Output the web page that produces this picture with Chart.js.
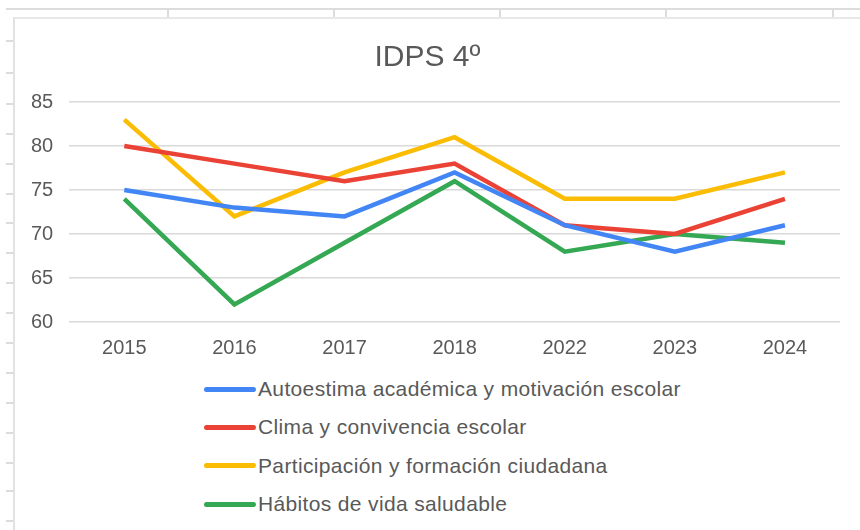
<!DOCTYPE html>
<html>
<head>
<meta charset="utf-8">
<script src="https://cdn.jsdelivr.net/npm/chart.js@4.4.0/dist/chart.umd.min.js"></script>
<style>
  body { margin: 0; background: #fff; font-family: "Liberation Sans", Arial, sans-serif; }
  #page { position: relative; width: 860px; height: 530px; overflow: hidden; }
  .sheet { position: absolute; background: #dcdcdc; }
  #box { position: absolute; left: 13px; top: 17px; width: 847px; height: 513px;
         border-left: 2px solid #e2e2e2; border-top: 2px solid #e8e8e8; background: #fff; }
  #wrap { position: relative; width: 845px; height: 351px; }
  #legend { margin: 0 0 0 189px; }
  .item { display: flex; align-items: center; height: 38.3px; color: #595959; font-size: 21px; letter-spacing: 0.35px; }
  .sw { width: 52px; height: 5px; border-radius: 3px; margin-right: 2px; }
</style>
</head>
<body>
<div id="page">
  <div id="bg"></div>
  <div id="box">
    <div id="wrap"><canvas id="c"></canvas></div>
    <div id="legend"></div>
  </div>
</div>
<script>
// datos IDPS 4º
const years = ['2015', '2016', '2017', '2018', '2022', '2023', '2024'];
const autoestima = [75, 73, 72, 77, 71, 68, 71];
const clima = [80, 78, 76, 78, 71, 70, 74];
const participacion = [83, 72, 77, 81, 74, 74, 77];
const habitos = [74, 62, 69, 76, 68, 70, 69];
const seriesNames = [
  'Autoestima académica y motivación escolar',
  'Clima y convivencia escolar',
  'Participación y formación ciudadana',
  'Hábitos de vida saludable'
];
const yTicks = [60, 65, 70, 75, 80, 85];

// fondo de planilla (lineas grises)
const bg = document.getElementById('bg');
function line(x, y, w, h) {
  const d = document.createElement('div');
  d.className = 'sheet';
  d.style.cssText = `left:${x}px;top:${y}px;width:${w}px;height:${h}px`;
  bg.appendChild(d);
}
line(6, 8, 854, 2);
[167, 333, 499, 665, 832].forEach(x => line(x, 8, 2, 10));
[40, 72, 103, 133, 163, 193, 222, 252, 282, 312, 342, 372, 402, 432, 462, 490, 520]
  .forEach(y => line(6, y, 8, 2));

const colors = ['#4285F4', '#EA4335', '#FBBC04', '#34A853'];
const values = [autoestima, clima, participacion, habitos];

const chart = new Chart(document.getElementById('c'), {
  type: 'line',
  data: {
    labels: years,
    datasets: values.map((v, i) => ({
      label: seriesNames[i],
      data: v,
      borderColor: colors[i],
      backgroundColor: colors[i],
      borderWidth: 4.5,
      pointRadius: 0,
      tension: 0,
      fill: false
    }))
  },
  options: {
    animation: false,
    responsive: true,
    maintainAspectRatio: false,
    layout: { padding: { left: 0, right: 20, bottom: 4 } },
    plugins: {
      legend: { display: false },
      tooltip: { enabled: false },
      title: {
        display: true,
        text: 'IDPS 4º',
        color: '#595959',
        font: { size: 30, weight: 'normal', family: '"Liberation Sans", Arial' },
        padding: { top: 21, bottom: 26 }
      }
    },
    scales: {
      x: {
        offset: true,
        grid: { display: false },
        border: { display: false },
        ticks: { color: '#595959', padding: 6, font: { size: 20, family: '"Liberation Sans", Arial' } }
      },
      y: {
        min: 60,
        max: 85,
        afterBuildTicks: s => { s.ticks = yTicks.map(v => ({ value: v })); },
        grid: { color: '#d9d9d9', lineWidth: 1.5, drawTicks: false },
        border: { display: false },
        ticks: { color: '#595959', padding: 16, font: { size: 20, family: '"Liberation Sans", Arial' } }
      }
    }
  }
});

// leyenda vertical abajo
const leg = document.getElementById('legend');
chart.data.datasets.forEach(ds => {
  const it = document.createElement('div');
  it.className = 'item';
  it.innerHTML = `<span class="sw" style="background:${ds.borderColor}"></span><span>${ds.label}</span>`;
  leg.appendChild(it);
});
</script>
</body>
</html>
